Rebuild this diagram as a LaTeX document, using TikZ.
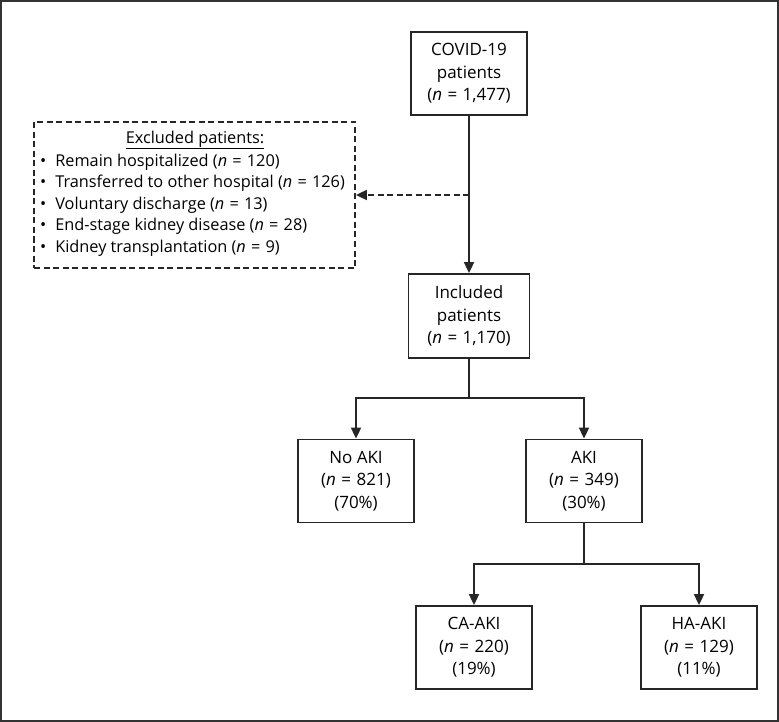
\documentclass[tikz,border=0pt]{standalone}
\usepackage{fontspec}
\setmainfont{Open Sans}
\usetikzlibrary{arrows.meta}
\newcommand{\eqs}{\hspace{0.32em}=\hspace{0.32em}}
\begin{document}
\begin{tikzpicture}[x=1pt,y=-1pt,
  fbox/.style={draw=black!85, line width=1.8pt, minimum width=116pt, minimum height=83pt, inner sep=0pt, align=center, font=\fontsize{17}{22.5}\selectfont},
  conn/.style={draw=black!85, line width=1.8pt},
  arr/.style={conn, -{Triangle[length=11pt,width=10pt]}},
  item/.style={anchor=west, inner sep=0pt, font=\fontsize{16.3}{21.5}\selectfont}
]
\useasboundingbox (0,0) rectangle (779,722);
\draw[draw=black!80, line width=1.5pt] (1,1) rectangle (778,721);

\node[fbox] (covid) at (469,73.5) {COVID-19\\patients\\(\textit{n}\eqs1,477)};
\node[fbox, minimum width=121pt, minimum height=84pt] (incl) at (469,316) {Included\\patients\\(\textit{n}\eqs1,170)};
\node[fbox] (noaki) at (356,481) {No AKI\\(\textit{n}\eqs821)\\(70\%)};
\node[fbox] (aki) at (584,481) {AKI\\(\textit{n}\eqs349)\\(30\%)};
\node[fbox] (caaki) at (474,647.5) {CA-AKI\\(\textit{n}\eqs220)\\(19\%)};
\node[fbox] (haaki) at (699,647.5) {HA-AKI\\(\textit{n}\eqs129)\\(11\%)};

\node[draw=black!85, line width=1.8pt, dash pattern=on 6pt off 3.5pt, minimum width=321pt, minimum height=146pt, inner sep=0pt] (excl) at (194.5,195) {};
\node[inner sep=0pt, font=\fontsize{16.3}{21.5}\selectfont] (title) at (195,140) {\underline{Excluded patients:}};
\node[item] (b1) at (40,162) {•\hspace{9pt}Remain hospitalized (\textit{n}\eqs120)};
\node[item] (b2) at (40,183.5) {•\hspace{9pt}Transferred to other hospital (\textit{n}\eqs126)};
\node[item] (b3) at (40,205) {•\hspace{9pt}Voluntary discharge (\textit{n}\eqs13)};
\node[item] (b4) at (40,226.5) {•\hspace{9pt}End-stage kidney disease (\textit{n}\eqs28)};
\node[item] (b5) at (40,248) {•\hspace{9pt}Kidney transplantation (\textit{n}\eqs9)};

\coordinate (mid) at (469,195);
\draw[arr] (covid.south) -- (incl.north);
\draw[conn, dash pattern=on 6pt off 3.5pt, -{Triangle[length=11pt,width=10pt]}] (mid) -- (excl.east);

\coordinate (s1) at (469,398);
\draw[conn] (incl.south) -- (s1);
\draw[arr] (s1) -| (noaki.north);
\draw[arr] (s1) -| (aki.north);

\coordinate (s2) at (584,564);
\draw[conn] (aki.south) -- (s2);
\draw[arr] (s2) -| (caaki.north);
\draw[arr] (s2) -| (haaki.north);
\end{tikzpicture}
\end{document}
